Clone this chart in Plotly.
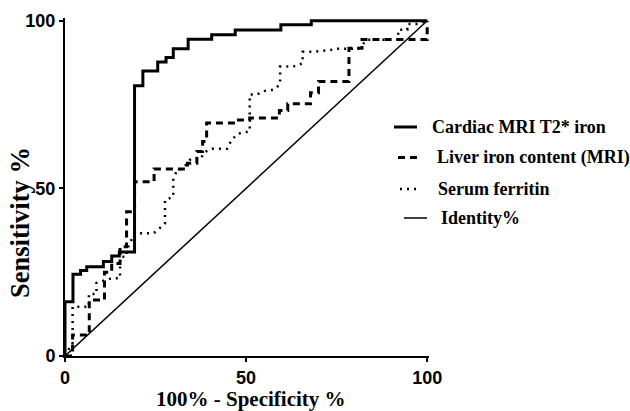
import plotly.graph_objects as go

# ---- data ----
cardiac_fpr = [0, 0, 2.2, 2.2, 4.3, 4.3, 6.0, 6.0, 10.6, 10.6, 12.9, 12.9, 15.0, 15.0, 19.2, 19.2,
               21.5, 21.5, 25.6, 25.6, 27.9, 27.9, 29.9, 29.9, 34.0, 34.0, 40.5, 40.5, 47.0, 47.0,
               59.6, 59.6, 68.0, 68.0, 100]
cardiac_tpr = [0, 16.2, 16.2, 24.4, 24.4, 25.5, 25.5, 26.6, 26.6, 28.2, 28.2, 29.8, 29.8, 31.0, 31.0, 80.6,
               80.6, 85.0, 85.0, 87.7, 87.7, 89.0, 89.0, 91.6, 91.6, 94.5, 94.5, 95.8, 95.8, 97.2,
               97.2, 98.8, 98.8, 100, 100]

liver_fpr = [0, 2.1, 2.1, 6.7, 6.7, 10.9, 10.9, 12.9, 12.9, 15.2, 15.2, 17.0, 17.0, 19.2, 19.2,
             24.6, 24.6, 33.8, 33.8, 36.4, 36.4, 38.0, 38.0, 39.1, 39.1, 47.0, 47.0, 51.0, 51.0,
             59.2, 59.2, 61.5, 61.5, 67.8, 67.8, 70.0, 70.0, 78.4, 78.4, 82.0, 82.0, 100, 100]
liver_tpr = [0, 0, 6.3, 6.3, 16.7, 16.7, 25.0, 25.0, 27.6, 27.6, 32.6, 32.6, 43.0, 43.0, 52.0,
             52.0, 55.8, 55.8, 57.5, 57.5, 61.0, 61.0, 64.0, 64.0, 69.5, 69.5, 70.4, 70.4, 71.0,
             71.0, 73.2, 73.2, 75.2, 75.2, 78.5, 78.5, 81.9, 81.9, 91.8, 91.8, 94.4, 94.4, 100]

ferritin_fpr = [0, 2.1, 2.1, 6.6, 6.6, 8.7, 8.7, 10.9, 12.9, 15.2, 15.2, 17.0, 17.0, 19.2, 24.5,
                27.6, 27.6, 29.9, 29.9, 31.0, 32.5, 34.5, 37.3, 38.5, 40.6, 44.8, 46.0, 47.8, 51.0,
                51.0, 53.0, 55.0, 57.5, 59.4, 59.4, 63.0, 65.6, 65.6, 68.0, 73.0, 75.0, 81.0, 83.4,
                92.0, 92.0, 94.5, 94.5, 97.0, 100]
ferritin_tpr = [0, 4.0, 14.7, 14.7, 18.5, 18.5, 21.8, 22.6, 23.2, 23.2, 29.6, 29.6, 31.5, 36.6, 36.6,
                39.5, 46.5, 47.5, 53.0, 55.5, 55.8, 58.5, 58.5, 60.8, 61.8, 61.8, 64.5, 66.3, 67.0,
                78.0, 78.0, 79.0, 79.4, 81.0, 86.3, 86.3, 87.3, 90.7, 90.7, 91.2, 91.6, 91.6, 94.3,
                94.3, 97.3, 97.3, 99.0, 99.0, 100]

identity_x = [0, 100]
identity_y = [0, 100]

series_names = ["Cardiac MRI T2* iron", "Liver iron content (MRI)", "Serum ferritin", "Identity%"]
x_ticks = [0, 50, 100]
y_ticks = [0, 50, 100]
x_title = "100% - Specificity %"
y_title = "Sensitivity %"

# ---- styles ----
styles = [
    dict(color="black", width=3, dash="solid"),
    dict(color="black", width=3, dash="7px,5px"),
    dict(color="black", width=2.5, dash="2px,5px"),
    dict(color="black", width=1.5, dash="solid"),
]
series = [(cardiac_fpr, cardiac_tpr), (liver_fpr, liver_tpr),
          (ferritin_fpr, ferritin_tpr), (identity_x, identity_y)]

W, H = 630, 411
ML, MR, MT, MB = 65, 201, 18, 55
PW, PH = W - ML - MR, H - MT - MB


def px(x):
    return (x - ML) / PW


def py(y):
    return (H - MB - y) / PH


fig = go.Figure()
for (xs, ys), st, name in zip(series, styles, series_names):
    fig.add_trace(go.Scatter(x=xs, y=ys, mode="lines", name=name, line=st,
                             showlegend=False, hoverinfo="skip"))

tickfont = dict(family="Liberation Sans", size=18, color="black", weight="bold")
fig.update_xaxes(range=[0, 100.5], tickvals=x_ticks, ticktext=[str(v) for v in x_ticks],
                 showline=True, linecolor="black", linewidth=2, ticks="outside", ticklen=4,
                 tickwidth=2, tickcolor="black", showgrid=False, zeroline=False,
                 tickfont=tickfont, ticklabelstandoff=0)
fig.update_yaxes(range=[0, 100.8], tickvals=y_ticks, ticktext=[str(v) for v in y_ticks],
                 showline=True, linecolor="black", linewidth=2, ticks="outside", ticklen=4,
                 tickwidth=2, tickcolor="black", showgrid=False, zeroline=False,
                 tickfont=tickfont)

serif = dict(family="Liberation Serif", color="black", weight="bold")
annotations = [
    dict(x=px(251), y=py(399), xref="paper", yref="paper", text=x_title, showarrow=False,
         xanchor="center", yanchor="middle", borderpad=0, font=dict(serif, size=21)),
    dict(x=px(20), y=py(223), xref="paper", yref="paper", text=y_title, showarrow=False,
         textangle=-90, xanchor="center", yanchor="middle", font=dict(serif, size=26.5)),
]
shapes = []
legend_rows = [
    (394, 417, 127, 430),
    (398, 421, 157.5, 435),
    (400, 421, 189, 436),
    (404, 427, 218, 439),
]
for (x0, x1, yy, tx), st, name in zip(legend_rows, styles, series_names):
    shapes.append(dict(type="line", xref="paper", yref="paper", x0=px(x0), x1=px(x1),
                       y0=py(yy), y1=py(yy), line=st))
    annotations.append(dict(x=px(tx), y=py(yy), xref="paper", yref="paper", text=name,
                            showarrow=False, xanchor="left", yanchor="middle",
                            font=dict(serif, size=18)))

fig.update_layout(width=W, height=H, margin=dict(l=ML, r=MR, t=MT, b=MB),
                  plot_bgcolor="white", paper_bgcolor="white",
                  annotations=annotations, shapes=shapes, showlegend=False)
fig.write_html("out.html", config={"displayModeBar": False},
               post_script="document.body.style.margin='0';document.body.style.overflow='hidden';")
